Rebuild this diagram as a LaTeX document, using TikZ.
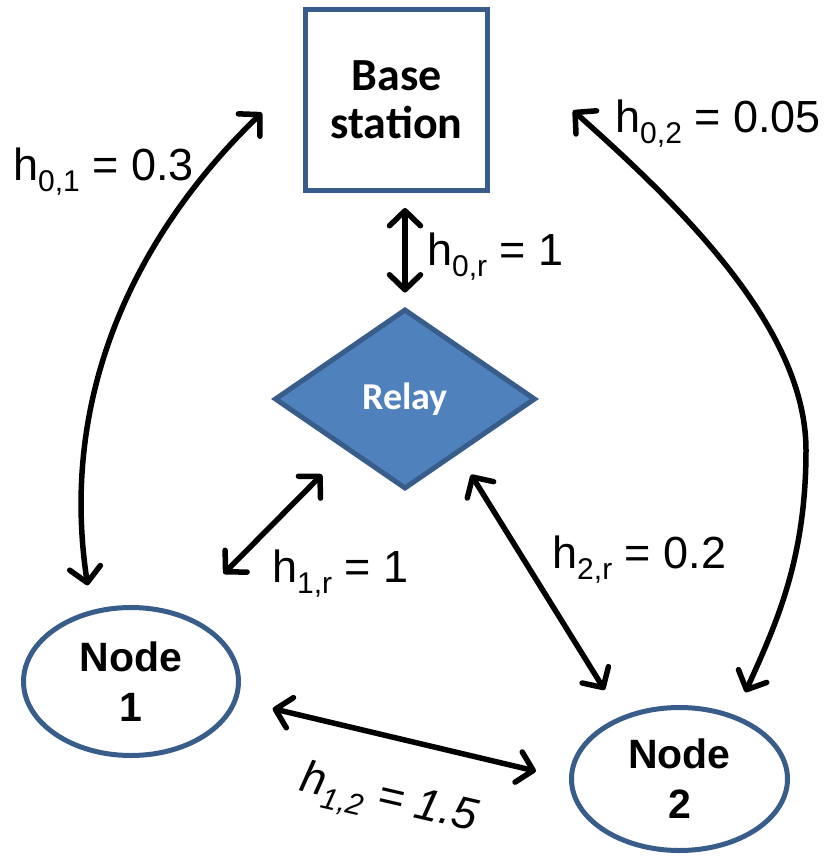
\documentclass[tikz,border=0pt]{standalone}
\usepackage{fontspec}
\setmainfont{Liberation Sans}
\newfontfamily\calfont{Carlito}
\usetikzlibrary{shapes.geometric,arrows.meta}
\definecolor{edgeblue}{HTML}{385D8A}
\definecolor{relayfill}{HTML}{4F81BD}
% channel gain label: h_{#1} = #2 with a text-font subscript
\newcommand\chan[2]{h\raisebox{-11pt}{\fontsize{30}{30}\selectfont #1}~=~#2}
\begin{document}
\begin{tikzpicture}[x=1pt,y=-1pt,
  >={Straight Barb[length=15pt,width=31pt,round]},
  link/.style={line width=5.5pt,<->},
  lbl/.style={font=\fontsize{45}{48}\selectfont,anchor=base west,inner sep=0},
  shapeline/.style={draw=edgeblue,line width=5pt,inner sep=0,align=center}]
\useasboundingbox (0,0) rectangle (831,860);

% terminals
\node[shapeline,minimum width=182pt,minimum height=181pt,
      font=\calfont\bfseries\fontsize{46}{48}\selectfont] (bs) at (396.5,100) {Base\\station};
\node[shapeline,diamond,fill=relayfill,minimum width=261pt,minimum height=180pt,
      text=white,font=\calfont\bfseries\fontsize{38}{40}\selectfont] (relay) at (405,399) {Relay};
\node[shapeline,ellipse,minimum width=215pt,minimum height=148pt,
      font=\bfseries\fontsize{41}{50}\selectfont] (n1) at (131,681.5) {Node\\1};
\node[shapeline,ellipse,minimum width=216pt,minimum height=143pt,
      font=\bfseries\fontsize{41}{50}\selectfont] (n2) at (679.5,779) {Node\\2};

% links
\draw[link,shorten <=15pt,shorten >=14pt] (bs.south -| relay.north) -- (relay.north);
\draw[link,shorten <=34pt,shorten >=57pt] (relay.221.6) -- (n1.52.9);
\draw[link,shorten <=24pt,shorten >=31pt] (relay.314.4) -- (n2.133.2);
\draw[link,shorten <=36pt,shorten >=34pt] (n1.350.8) -- (n2.180.5);
\draw[link,shorten <=57pt,shorten >=25pt] (bs.164.4)
  .. controls (140,230) and (58,390) .. (n1.119.9);
\draw[link,shorten <=111pt,shorten >=25pt] (bs.34.2)
  .. controls (685,210) and (806,330) .. (806,450)
  .. controls (806,560) and (776,624) .. (n2.49.6);

% gain labels
\node[lbl] (l01) at (13,180) {\chan{0,1}{0.3}};
\node[lbl] (l02) at (615,132) {\chan{0,2}{0.05}};
\node[lbl] (l0r) at (427,265) {\chan{0,r}{1}};
\node[lbl] (l1r) at (272,582) {\chan{1,r}{1}};
\node[lbl] (l2r) at (552,568) {\chan{2,r}{0.2}};
\node[lbl,anchor=base,rotate=-13,font=\itshape\fontsize{45}{48}\selectfont] (l12) at (386,811) {\chan{1,2}{1.5}};
\end{tikzpicture}
\end{document}
